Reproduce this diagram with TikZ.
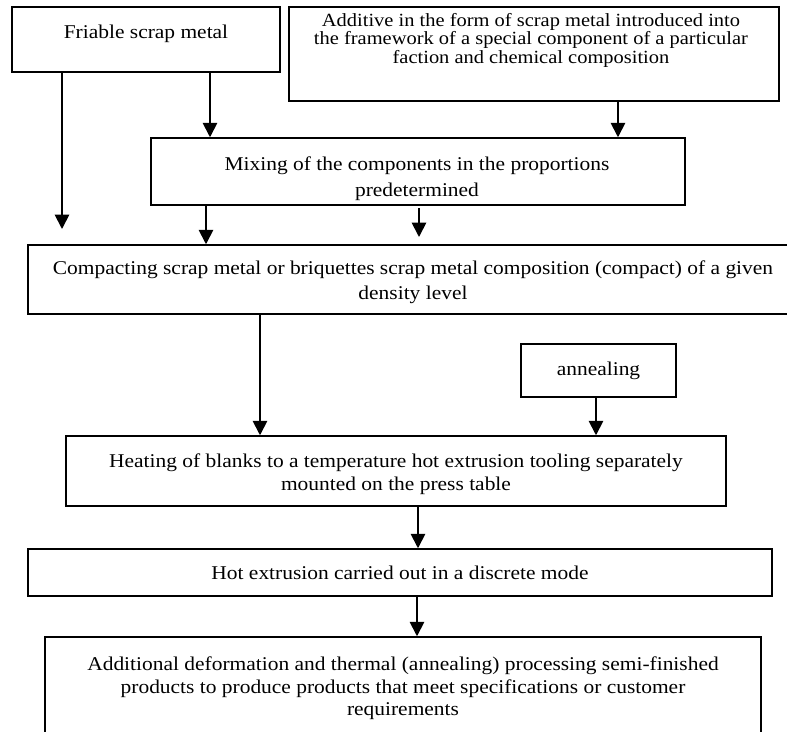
\documentclass[tikz,border=0pt]{standalone}
\usepackage{fontspec}
\setmainfont{Liberation Serif}[FakeStretch=1.1]
\usetikzlibrary{arrows.meta}
\begin{document}
\begin{tikzpicture}[x=1pt,y=-1pt,
  box/.style={draw, line width=1.5pt, inner sep=0pt, rectangle},
  txt/.style={align=center, inner sep=0pt, font=\fontsize{19.5}{24}\selectfont},
  smalltxt/.style={align=center, inner sep=0pt, font=\fontsize{18.6}{18.5}\selectfont},
  arr/.style={line width=1.8pt, -{Triangle[width=14.5pt,length=14.5pt]}}]
\useasboundingbox (0,0) rectangle (787,731);
% boxes
\node[box, minimum width=268pt, minimum height=65pt] (fri) at (146,39.5) {};
\node[txt] (frit) at (146,34) {Friable scrap metal};
\node[box, minimum width=490pt, minimum height=94pt] (add) at (534,54) {};
\node[smalltxt] (addt) at (531,40) {Additive in the form of scrap metal introduced into\\the framework of a special component of a particular\\faction and chemical composition};
\node[box, minimum width=534pt, minimum height=67pt] (mix) at (418,171.5) {};
\node[txt, font=\fontsize{19.5}{25.5}\selectfont] (mixt) at (417,178.5) {Mixing of the components in the proportions\\predetermined};
\node[box, minimum width=770pt, minimum height=69pt] (comp) at (413,279.5) {};
\node[txt, font=\fontsize{19.5}{24.5}\selectfont] (compt) at (413,282) {Compacting scrap metal or briquettes scrap metal composition (compact) of a given\\density level};
\node[box, minimum width=155pt, minimum height=53pt] (ann) at (598.5,370.5) {};
\node[txt] (annt) at (598.5,371) {annealing};
\node[box, minimum width=660pt, minimum height=70pt] (heat) at (396,471) {};
\node[txt, font=\fontsize{19.5}{23.5}\selectfont] (heatt) at (396,474) {Heating of blanks to a temperature hot extrusion tooling separately\\mounted on the press table};
\node[box, minimum width=744pt, minimum height=47pt] (hot) at (400,572.5) {};
\node[txt] (hott) at (400,573) {Hot extrusion carried out in a discrete mode};
\node[box, minimum width=716pt, minimum height=110pt] (fin) at (403,692) {};
\node[txt, font=\fontsize{19.5}{22.5}\selectfont] (fint) at (403,688.5) {Additional deformation and thermal (annealing) processing semi-finished\\products to produce products that meet specifications or customer\\requirements};
% connector helpers
\coordinate (e1) at (62,229);
\coordinate (x210) at (210,0);
\coordinate (x618) at (618,0);
\coordinate (x206) at (206,0);
\coordinate (s5) at (419,208);
\coordinate (e5) at (419,237);
\coordinate (x260) at (260,0);
\coordinate (x596) at (596,0);
\coordinate (x418) at (418,0);
\coordinate (x417) at (417,0);
% connectors
\draw[arr] (fri.south -| e1) -- (e1);
\draw[arr] (fri.south -| x210) -- (mix.north -| x210);
\draw[arr] (add.south -| x618) -- (mix.north -| x618);
\draw[arr] (mix.south -| x206) -- (comp.north -| x206);
\draw[arr] (s5) -- (e5);
\draw[arr] (comp.south -| x260) -- (heat.north -| x260);
\draw[arr] (ann.south -| x596) -- (heat.north -| x596);
\draw[arr] (heat.south -| x418) -- (hot.north -| x418);
\draw[arr] (hot.south -| x417) -- (fin.north -| x417);
\end{tikzpicture}
\end{document}
